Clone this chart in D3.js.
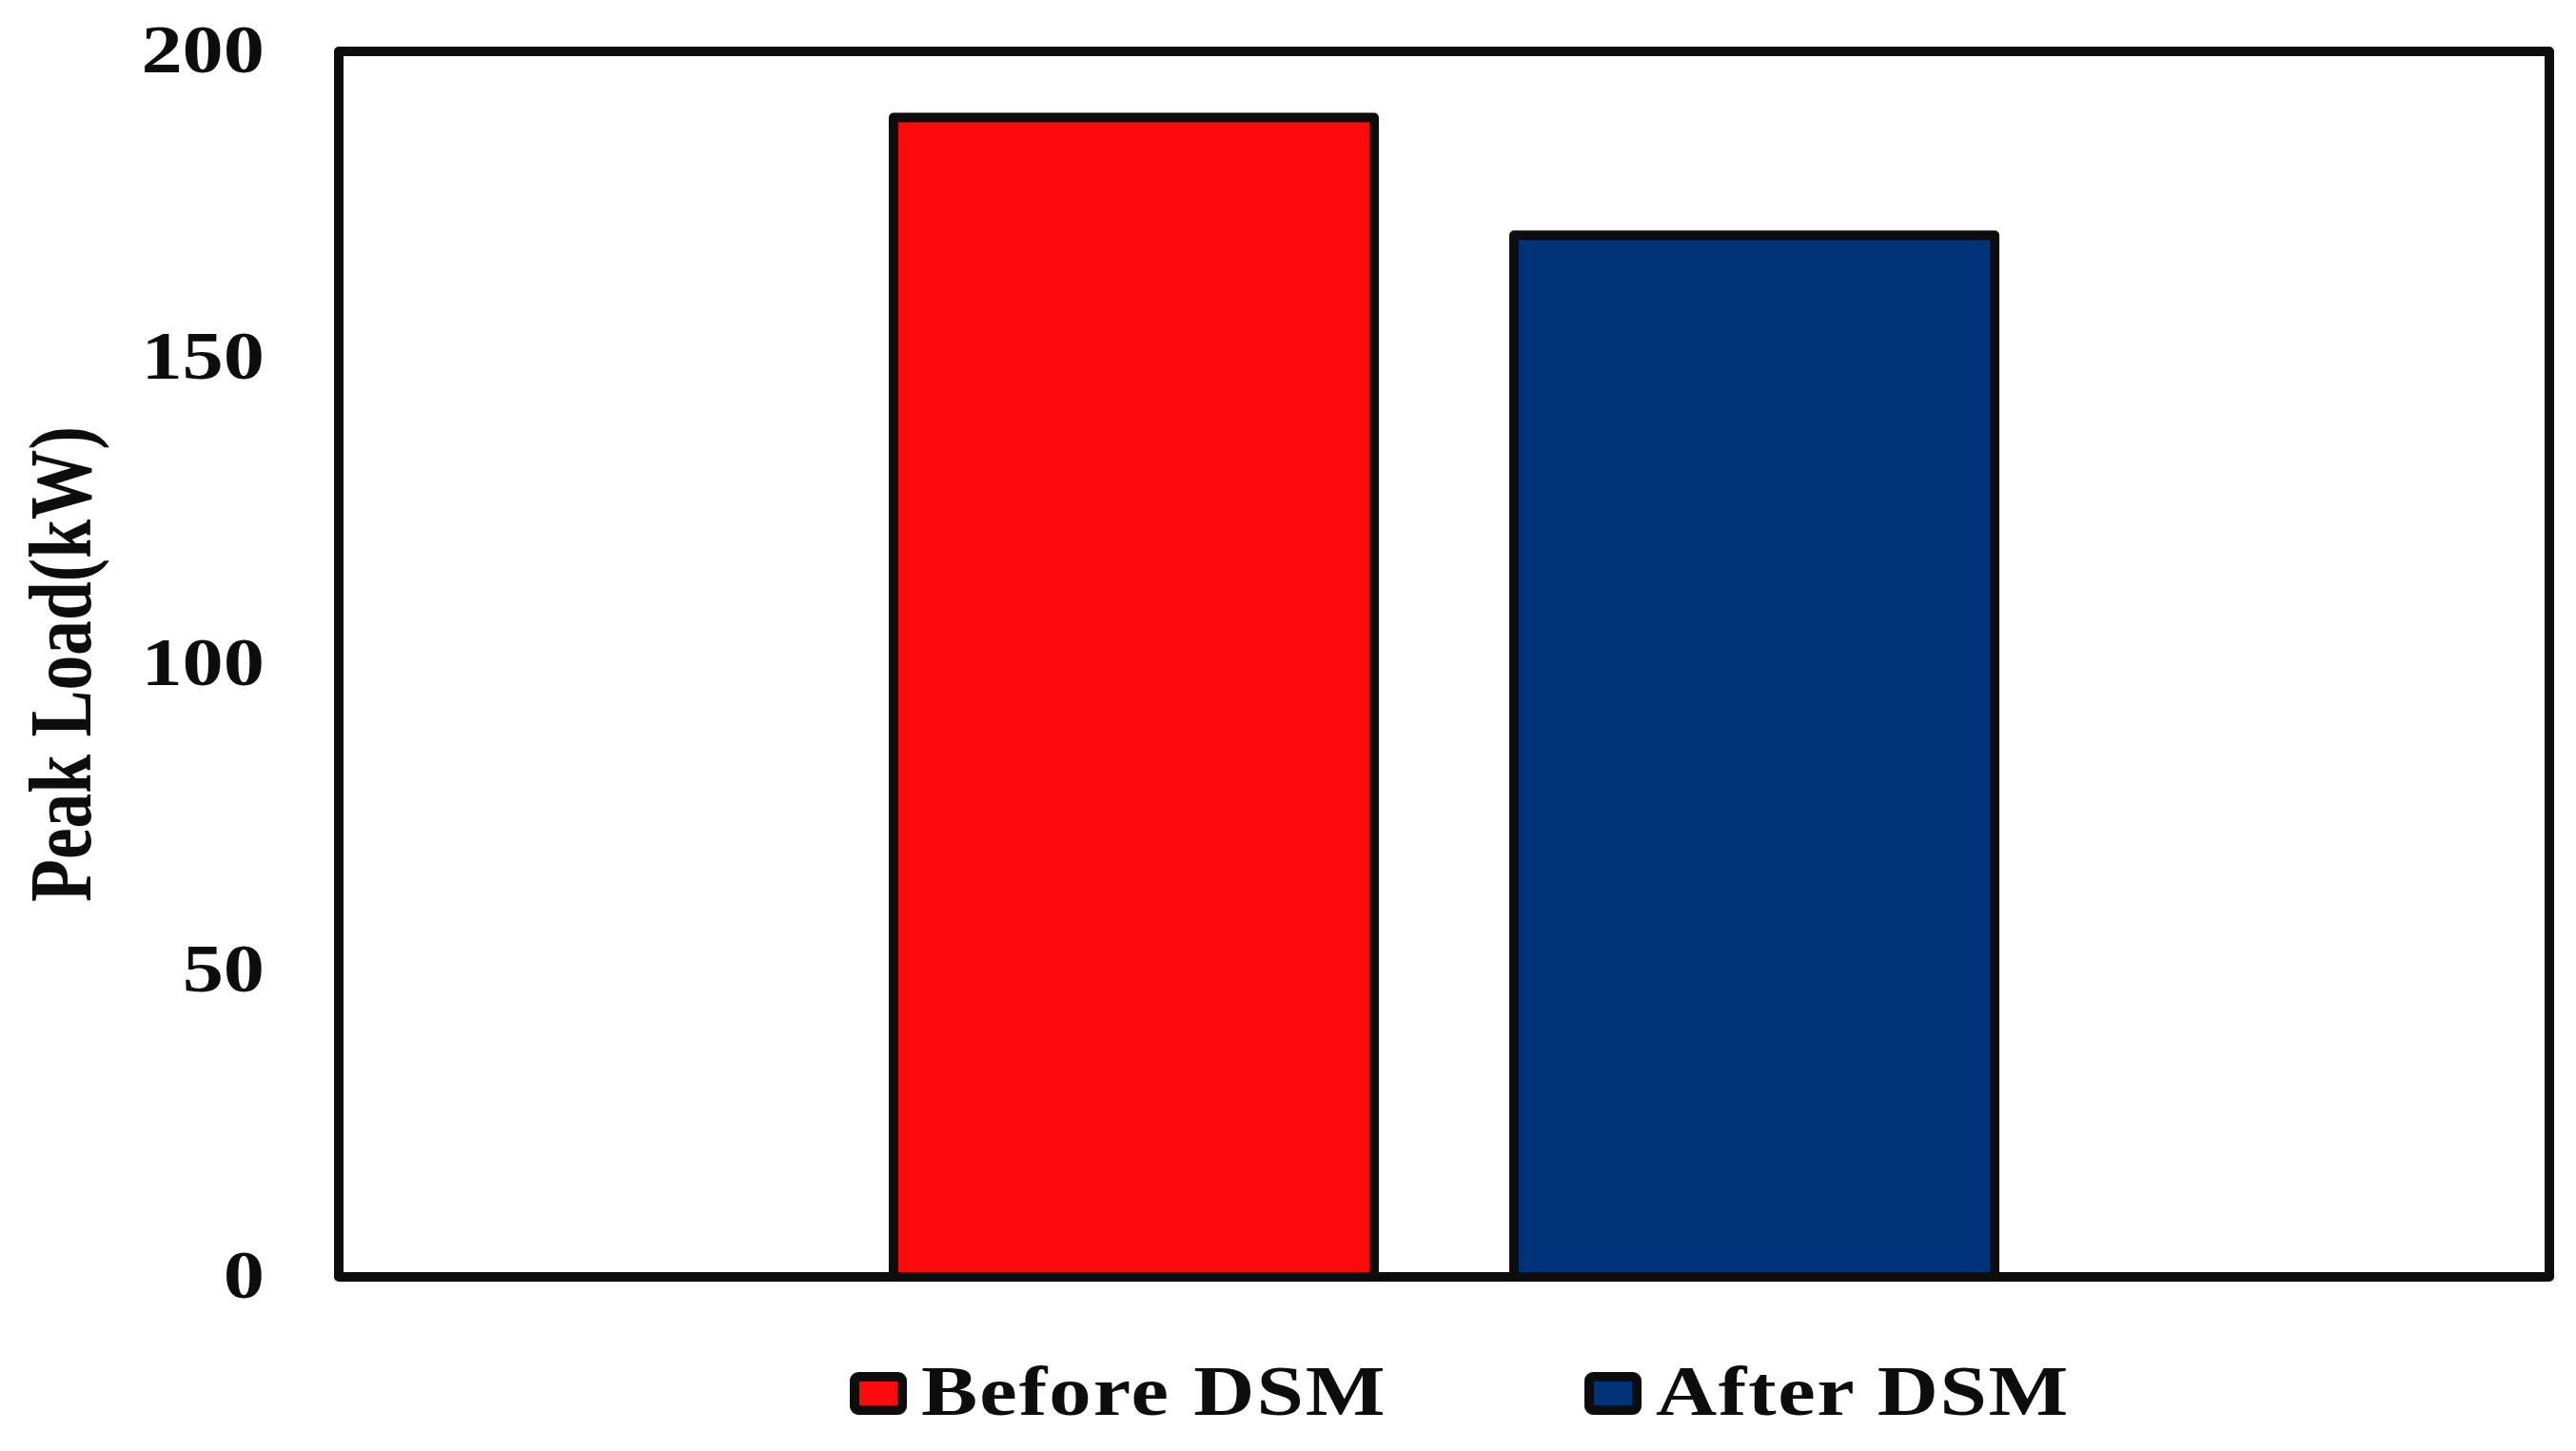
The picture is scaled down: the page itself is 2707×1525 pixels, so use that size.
<!DOCTYPE html>
<html>
<head>
<meta charset="utf-8">
<script src="https://cdn.jsdelivr.net/npm/d3@7"></script>
<style>
  html, body { margin: 0; padding: 0; background: #fff; }
  text { font-family: "Liberation Serif", "Times New Roman", serif; font-weight: bold; fill: #0d0d0d; }
</style>
</head>
<body>
<div id="canvas"></div>
<script>
// data
const series = ['Before DSM', 'After DSM'];
const peakLoad = [189.2, 170];
const colors = ['#fd0a0c', '#00327a'];
const yTicks = [0, 50, 100, 150, 200];
const yLabel = 'Peak Load(kW)';

const width = 2707;
const height = 1525;
const stretch = 1.2; // source picture is widened horizontally

const svg = d3.select('#canvas').append('svg')
  .attr('width', width)
  .attr('height', height)

const plot = { left: 356, top: 54, right: 2679, bottom: 1342 };

const yScale = d3.scaleLinear().domain([0, 200]).range([plot.bottom, plot.top]);
const xScale = d3.scaleBand()
  .domain(series)
  .range([plot.left, plot.right])
  .paddingInner(0.2255)
  .paddingOuter(0.894);

// frame
svg.append('rect')
  .attr('x', plot.left)
  .attr('y', plot.top)
  .attr('width', plot.right - plot.left)
  .attr('height', plot.bottom - plot.top)
  .attr('fill', 'none')
  .attr('stroke', '#0d0d0d')
  .attr('stroke-width', 10)
  .attr('stroke-linejoin', 'round');

// bars
svg.selectAll('.bar')
  .data(series)
  .enter().append('rect')
  .attr('class', 'bar')
  .attr('x', d => xScale(d))
  .attr('width', xScale.bandwidth())
  .attr('y', (d, i) => yScale(peakLoad[i]))
  .attr('height', (d, i) => yScale(0) - yScale(peakLoad[i]))
  .attr('fill', (d, i) => colors[i])
  .attr('stroke', '#0d0d0d')
  .attr('stroke-width', 10)
  .attr('stroke-linejoin', 'round');

// y axis
const yAxis = d3.axisLeft(yScale).tickValues(yTicks).tickSize(0).tickPadding(65);
const yAxisG = svg.append('g')
  .attr('transform', `translate(${plot.left},0)`)
  .call(yAxis);
yAxisG.select('.domain').remove();
yAxisG.selectAll('text')
  .attr('font-size', 72)
  .attr('dy', '0.3em')
  .attr('transform', `scale(${stretch},1)`);

// y label
svg.append('text')
  .attr('transform', `translate(95,698) rotate(-90) scale(1,${stretch})`)
  .attr('text-anchor', 'middle')
  .attr('font-size', 78)
  .attr('textLength', 500)
  .attr('lengthAdjust', 'spacingAndGlyphs')
  .text(yLabel);

// legend
const legendX = [893, 1665];
const legendSpacing = [1.7, 1.4];
const legend = svg.selectAll('.legend')
  .data(series)
  .enter().append('g')
  .attr('class', 'legend')
  .attr('transform', (d, i) => `translate(${legendX[i]},1487)`);

legend.append('rect')
  .attr('x', 5)
  .attr('y', -40)
  .attr('width', 50)
  .attr('height', 35)
  .attr('rx', 4)
  .attr('fill', (d, i) => colors[i])
  .attr('stroke', '#0d0d0d')
  .attr('stroke-width', 10);

legend.append('text')
  .attr('x', 75 / stretch)
  .attr('y', 0)
  .attr('font-size', 74)
  .attr('letter-spacing', (d, i) => legendSpacing[i])
  .attr('transform', `scale(${stretch},1)`)
  .text(d => d);
</script>
</body>
</html>
